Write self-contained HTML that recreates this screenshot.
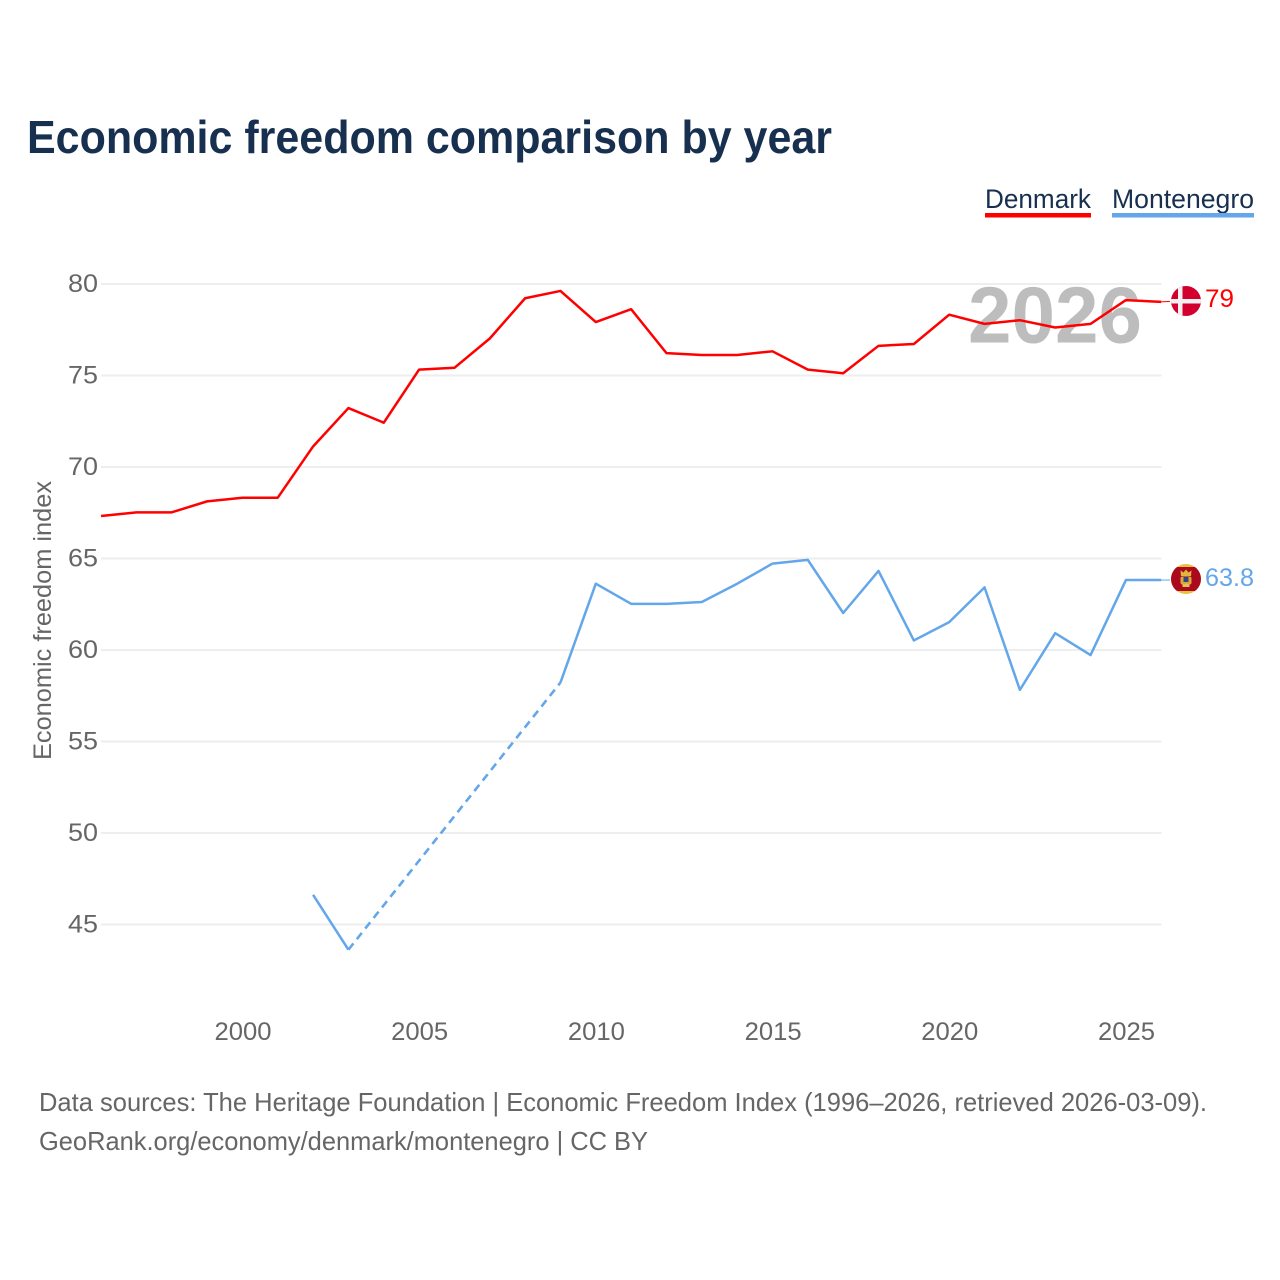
<!DOCTYPE html>
<html lang="en">
<head>
<meta charset="utf-8">
<title>Economic freedom comparison by year</title>
<style>
html,body{margin:0;padding:0;background:#fff;width:1280px;height:1280px;overflow:hidden}
svg{display:block}
text{font-family:"Liberation Sans",sans-serif}
</style>
</head>
<body>
<svg id="chart" xmlns="http://www.w3.org/2000/svg" width="1280" height="1280" viewBox="0 0 1280 1280">
  <rect x="0" y="0" width="1280" height="1280" fill="#ffffff"/>
  <text x="27" y="153" font-size="46" font-weight="700" fill="#18304f" textLength="805" lengthAdjust="spacingAndGlyphs">Economic freedom comparison by year</text>

  <g>
    <text x="985" y="208" font-size="27" fill="#18304f" textLength="106" lengthAdjust="spacingAndGlyphs">Denmark</text>
    <rect x="985" y="213" width="106" height="4.5" fill="#ff0000"/>
  </g>
  <g>
    <text x="1112" y="208" font-size="27" fill="#18304f" textLength="142" lengthAdjust="spacingAndGlyphs">Montenegro</text>
    <rect x="1112" y="213" width="142" height="4.5" fill="#63a6ea"/>
  </g>

  <g id="grid"></g>
  <g id="yticks"></g>
  <g id="xticks"></g>

  <text transform="translate(51,620.5) rotate(-90)" text-anchor="middle" font-size="25" fill="#666666" textLength="279" lengthAdjust="spacingAndGlyphs">Economic freedom index</text>

  <text x="968" y="342.5" font-size="80" font-weight="700" fill="#bdbdbd" textLength="174" lengthAdjust="spacingAndGlyphs">2026</text>

  <g id="series"></g>

  <g id="flag-dk">
    <clipPath id="clip-dk"><circle cx="1186" cy="301" r="15"/></clipPath>
    <g id="flag-dk-art" clip-path="url(#clip-dk)">
      <rect x="1170" y="285" width="32" height="32" fill="#d3002f"/>
      <rect x="1178" y="285" width="4.5" height="32" fill="#f1f1f1"/>
      <rect x="1170" y="299" width="32" height="4.5" fill="#f1f1f1"/>
    </g>
  </g>
  <g id="flag-me">
    <clipPath id="clip-me"><circle cx="1186" cy="579" r="15"/></clipPath>
    <g clip-path="url(#clip-me)">
      <rect x="1170" y="563" width="32" height="32" fill="#e8c23c"/>
      <rect x="1170" y="567" width="32" height="24" fill="#ab0a1e"/>
      <path d="M1181 576 L1180.5 570.5 L1183.5 572.5 L1186 569.5 L1188.5 572.5 L1191.5 570.5 L1191 576 Z" fill="#e2b53c"/>
      <rect x="1180.5" y="576.5" width="11" height="8" rx="2" fill="#d9a93a"/>
      <rect x="1183.5" y="577" width="5" height="5" fill="#2d4a86"/>
      <rect x="1182.5" y="584" width="7" height="3" fill="#e2c25a"/>
    </g>
  </g>

  <text x="39" y="1111" font-size="26" fill="#666666" textLength="1168" lengthAdjust="spacingAndGlyphs">Data sources: The Heritage Foundation | Economic Freedom Index (1996–2026, retrieved 2026-03-09).</text>
  <text x="39" y="1150" font-size="26" fill="#666666" textLength="609" lengthAdjust="spacingAndGlyphs">GeoRank.org/economy/denmark/montenegro | CC BY</text>
</svg>

<script>
const startYear = 1996;
const denmarkValues = [67.3,67.5,67.5,68.1,68.3,68.3,71.1,73.2,72.4,75.3,75.4,77,79.2,79.6,77.9,78.6,76.2,76.1,76.1,76.3,75.3,75.1,76.6,76.7,78.3,77.8,78,77.6,77.8,79.1,79];
const montenegroYears = [2002,2003,2009,2010,2011,2012,2013,2014,2015,2016,2017,2018,2019,2020,2021,2022,2023,2024,2025,2026];
const montenegroValues = [46.6,43.6,58.2,63.6,62.5,62.5,62.6,63.6,64.7,64.9,62,64.3,60.5,61.5,63.4,57.8,60.9,59.7,63.8,63.8];
const yTicks = [80,75,70,65,60,55,50,45];
const xTicks = [2000,2005,2010,2015,2020,2025];
const denmarkLabel = "79";
const montenegroLabel = "63.8";

const NS = "http://www.w3.org/2000/svg";
function xScale(year){ return 242.4 + (year - 2000) * 35.34; }
function yScale(v){ return 284 + (80 - v) * 18.3; }
function make(tag, attrs, parent, txt){
  const el = document.createElementNS(NS, tag);
  for (const k in attrs) el.setAttribute(k, attrs[k]);
  if (txt !== undefined) el.textContent = txt;
  parent.appendChild(el);
  return el;
}
const grid = document.getElementById("grid");
const yt = document.getElementById("yticks");
const xt = document.getElementById("xticks");
const series = document.getElementById("series");

yTicks.forEach(function(v){
  const line = make("line", {x1:101, x2:1161.5, y1:yScale(v), y2:yScale(v), stroke:"#eeeeee", "stroke-width":2}, grid);
  
  
  const t = make("text", {x:98, y:yScale(v)+8, "text-anchor":"end", "font-size":25, fill:"#666666", textLength:30, lengthAdjust:"spacingAndGlyphs"}, yt, String(v));
  
  
});
xTicks.forEach(function(y){
  const t = make("text", {x:xScale(y)+0.6, y:1040, "text-anchor":"middle", "font-size":25, fill:"#666666", textLength:57, lengthAdjust:"spacingAndGlyphs"}, xt, String(y));
  
  
});

function pathFrom(points){
  return points.map(function(p,i){ return (i ? "L" : "M") + xScale(p[0]).toFixed(2) + " " + (yScale(p[1]) - 0.4).toFixed(2); }).join(" ");
}
const dkPoints = denmarkValues.map(function(v,i){ return [startYear + i, v]; });
const dkLine = make("path", {d:pathFrom(dkPoints), fill:"none", stroke:"#ff0000", "stroke-width":2.5, "stroke-linejoin":"round"}, series);



// Montenegro: solid runs between consecutive years, dashed across missing years
let run = [];
function flushRun(){
  if (run.length > 1){
    const seg = make("path", {d:pathFrom(run), fill:"none", stroke:"#63a6ea", "stroke-width":2.5, "stroke-linejoin":"round"}, series);
    
    
  }
  run = [];
}
montenegroYears.forEach(function(y,i){
  if (i > 0 && y - montenegroYears[i-1] > 1){
    flushRun();
    const gap = make("path", {d:pathFrom([[montenegroYears[i-1], montenegroValues[i-1]],[y, montenegroValues[i]]]), fill:"none", stroke:"#63a6ea", "stroke-width":2.6, "stroke-dasharray":"8 5.5"}, series);
    
    
  }
  run.push([y, montenegroValues[i]]);
});
flushRun();

// end connectors and value labels
const lastDk = denmarkValues[denmarkValues.length-1];
const lastMe = montenegroValues[montenegroValues.length-1];
const conDk = make("line", {x1:xScale(2026), x2:1170, y1:yScale(lastDk)-0.4, y2:yScale(lastDk)-0.9, stroke:"#ff0000", "stroke-width":1}, series);


const conMe = make("line", {x1:xScale(2026), x2:1170, y1:yScale(lastMe)-0.4, y2:yScale(lastMe)-0.4, stroke:"#63a6ea", "stroke-width":1}, series);



const lblDk = make("text", {x:1205, y:307, "font-size":25, fill:"#ff0000", textLength:29, lengthAdjust:"spacingAndGlyphs"}, series, denmarkLabel);


const lblMe = make("text", {x:1205, y:586, "font-size":25, fill:"#63a6ea", textLength:49, lengthAdjust:"spacingAndGlyphs"}, series, montenegroLabel);


</script>
</body>
</html>
